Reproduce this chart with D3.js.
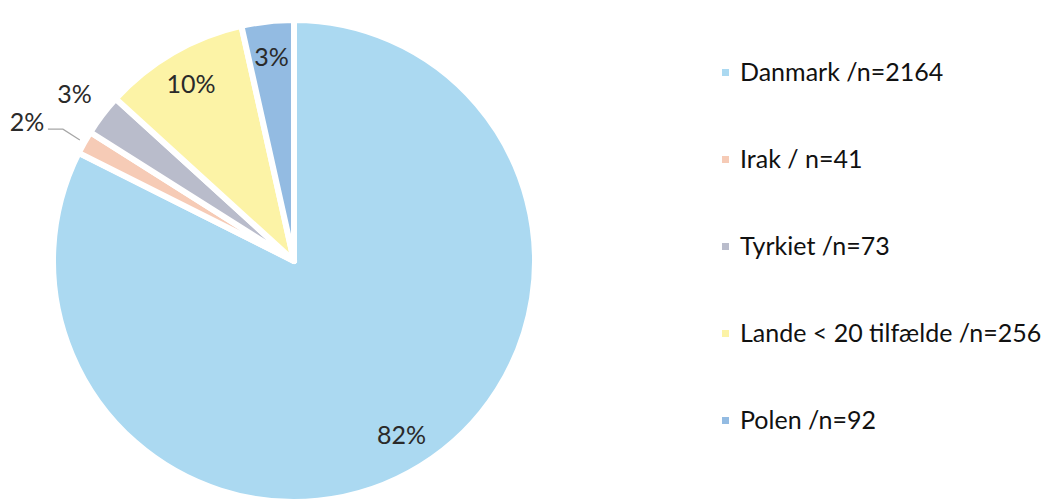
<!DOCTYPE html>
<html>
<head>
<meta charset="utf-8">
<script src="https://cdn.jsdelivr.net/npm/d3@7"></script>
<style>
  body { margin: 0; background: #fff; }
  svg { display: block; }
</style>
</head>
<body>
<svg id="chart" width="1049" height="501"></svg>
<script>
// data
var countries = ["Danmark", "Irak", "Tyrkiet", "Lande < 20 tilfælde", "Polen"];
var counts = [2164, 41, 73, 256, 92];
var pctLabels = ["82%", "2%", "3%", "10%", "3%"];
var legendLabels = ["Danmark /n=2164", "Irak / n=41", "Tyrkiet /n=73", "Lande < 20 tilfælde /n=256", "Polen /n=92"];
var colors = ["#abd9f1", "#f6cbb6", "#b9bccb", "#fcf3a6", "#93bbe2"];

var svg = d3.select("#chart");
var width = 1049, height = 501;

var cx = 294, cy = 261, radius = 241;
var total = d3.sum(counts);

var pie = d3.pie().sort(null).value(function(d) { return d; });
var arcs = pie(counts);

var arc = d3.arc().innerRadius(0).outerRadius(radius);

var g = svg.append("g")
    .attr("transform", "translate(" + cx + "," + cy + ")");

// slices
g.selectAll("path.slice")
    .data(arcs)
    .enter().append("path")
    .attr("class", "slice")
    .attr("d", arc)
    .attr("fill", function(d, i) { return colors[i]; })
    .attr("stroke", "#fff")
    .attr("stroke-width", 6)
    .attr("stroke-linejoin", "round");

// percentage labels: inside for the bigger slices, outside for the thin ones
function labelPos(d) {
    var share = d.value / total;
    var a = (d.startAngle + d.endAngle) / 2;
    var r = 205;
    if (share < 0.02) { r = radius + 60; a -= 0.035; }
    else if (share < 0.03) { r = radius + 35; }
    return [Math.sin(a) * r, -Math.cos(a) * r];
}

g.selectAll("text.pct")
    .data(arcs)
    .enter().append("text")
    .attr("class", "pct")
    .attr("x", function(d) { return labelPos(d)[0]; })
    .attr("y", function(d) { return labelPos(d)[1]; })
    .attr("dy", "0.35em")
    .attr("text-anchor", "middle")
    .style("font-family", "Lato, 'Open Sans', sans-serif")
    .style("font-size", "25px")
    .style("fill", "#2a2a2a")
    .text(function(d, i) { return pctLabels[i]; });

// leader line for the smallest slice
arcs.forEach(function(d) {
    if (d.value / total >= 0.02) return;
    var a = (d.startAngle + d.endAngle) / 2;
    var p0 = [Math.sin(a) * (radius + 5), -Math.cos(a) * (radius + 5)];
    var p = labelPos(d);
    g.append("path")
        .attr("d", d3.line()([[p[0] + 21, p[1] + 7], [p[0] + 36, p[1] + 7], p0]))
        .attr("fill", "none")
        .attr("stroke", "#a6a6a6")
        .attr("stroke-width", 1.2);
});

// legend
var legendY = d3.scalePoint()
    .domain(d3.range(countries.length))
    .range([72, 420]);

var legend = svg.append("g")
    .attr("class", "legend")
    .selectAll("g")
    .data(legendLabels)
    .enter().append("g")
    .attr("transform", function(d, i) { return "translate(722," + legendY(i) + ")"; });

legend.append("rect")
    .attr("x", 0)
    .attr("y", -3)
    .attr("width", 7)
    .attr("height", 7)
    .attr("fill", function(d, i) { return colors[i]; });

legend.append("text")
    .attr("x", 18)
    .attr("y", 0)
    .attr("dy", "0.35em")
    .style("font-family", "Lato, 'Open Sans', sans-serif")
    .style("font-size", "25px")
    .style("fill", "#111")
    .text(function(d) { return d; });
</script>
</body>
</html>
